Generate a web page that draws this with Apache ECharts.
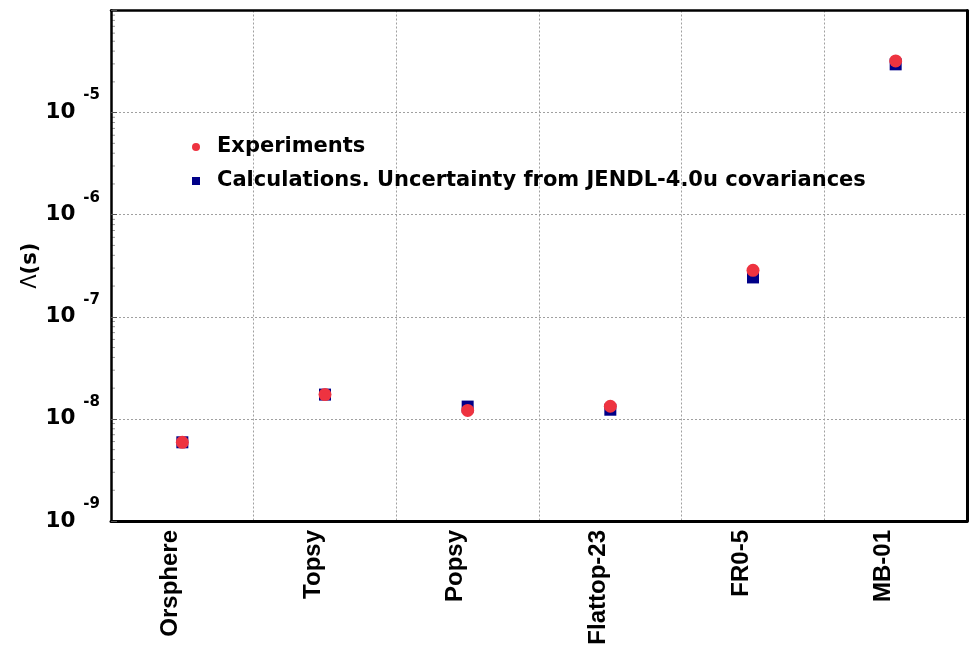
<!DOCTYPE html>
<html>
<head>
<meta charset="utf-8">
<script src="https://cdn.jsdelivr.net/npm/echarts@6/dist/echarts.min.js"></script>
<style>
  html, body { margin: 0; padding: 0; background: #fff; }
  #chart { width: 970px; height: 648px; }
</style>
</head>
<body>
<div id="chart"></div>
<script>
// Benchmark names along the x axis
const categories = ['Orsphere', 'Topsy', 'Popsy', 'Flattop-23', 'FR0-5', 'MB-01'];
// Measured Lambda values (s)
const experiments = [5.9e-9, 1.73e-8, 1.21e-8, 1.33e-8, 2.85e-7, 3.21e-5];
// Calculated Lambda values (s)
const calculations = [5.9e-9, 1.73e-8, 1.32e-8, 1.23e-8, 2.43e-7, 2.97e-5];
// Decade exponents that carry a label on the y axis
const labelledExponents = [-9, -8, -7, -6, -5];
// Mantissas of the minor log ticks inside each decade
const minorMantissas = [2, 3, 4, 5, 6, 7, 8, 9];

const FONT = 'DejaVu Sans';
const LABEL_FONT = 'Liberation Sans';
const expName = 'Experiments';
const calcName = 'Calculations. Uncertainty from JENDL-4.0u covariances';

const minorTicks = [];
labelledExponents.forEach(function (e) {
  minorMantissas.forEach(function (m) {
    minorTicks.push([0, m * Math.pow(10, e)]);
  });
});

const gridLine = { color: '#a0a0a0', width: 1, type: [2, 2] };

const chart = echarts.init(document.getElementById('chart'), null, { renderer: 'canvas' });

chart.setOption({
  animation: false,
  backgroundColor: '#ffffff',
  grid: {
    left: 111, right: 3, top: 10.5, bottom: 127,
    show: false,
    containLabel: false,
    outerBoundsMode: 'none'
  },
  legend: {
    orient: 'vertical',
    left: 187, top: 128.5,
    itemWidth: 8, itemHeight: 8, itemGap: 7,
    data: [
      { name: expName, icon: 'circle' },
      { name: calcName, icon: 'rect' }
    ],
    textStyle: {
      fontFamily: FONT, fontWeight: 'bold', fontSize: 21, color: '#000',
      lineHeight: 24, padding: [3, 0, 0, 12]
    }
  },
  xAxis: [
    {
      type: 'category',
      data: categories,
      boundaryGap: true,
      position: 'bottom',
      axisLine: { show: true, lineStyle: { color: '#000', width: 3 } },
      axisTick: { show: false },
      splitLine: { show: true, lineStyle: gridLine },
      axisLabel: {
        rotate: 90,
        margin: 9,
        verticalAlign: 'bottom',
        interval: 0,
        fontFamily: LABEL_FONT, fontWeight: 'bold', fontSize: 24, color: '#000'
      },
      z: 3
    },
    {
      // top edge of the frame
      type: 'category',
      data: categories,
      position: 'top',
      axisLine: { show: true, lineStyle: { color: '#000', width: 2.5 } },
      axisTick: { show: false },
      axisLabel: { show: false },
      splitLine: { show: false },
      z: 3
    }
  ],
  yAxis: [
    {
      type: 'log',
      logBase: 10,
      min: 1e-9,
      max: 1e-4,
      position: 'left',
      name: '{l|Λ}{p|(s)}',
      nameLocation: 'middle',
      nameRotate: 90,
      nameGap: 70,
      nameMoveOverlap: false,
      nameTextStyle: {
        color: '#000',
        rich: {
          l: { fontFamily: FONT, fontWeight: 'normal', fontSize: 21, color: '#000' },
          p: { fontFamily: FONT, fontWeight: 'bold', fontSize: 21, color: '#000' }
        }
      },
      axisLine: { show: true, lineStyle: { color: '#000', width: 2.5 } },
      axisTick: { show: true, inside: true, length: 6, lineStyle: { color: '#555', width: 1 } },
      splitLine: { show: true, lineStyle: gridLine },
      axisLabel: {
        margin: 11,
        showMaxLabel: false,
        formatter: function (v) {
          const e = Math.round(Math.log10(v));
          if (labelledExponents.indexOf(e) < 0) return '';
          return '{b|10}{s|' + e + '}';
        },
        rich: {
          b: { fontFamily: FONT, fontWeight: 'bold', fontSize: 21.5, color: '#000' },
          s: { fontFamily: FONT, fontWeight: 'bold', fontSize: 15, color: '#000', padding: [0, 0, 34, 8] }
        }
      },
      z: 3
    },
    {
      // right edge of the frame
      type: 'log',
      logBase: 10,
      min: 1e-9,
      max: 1e-4,
      position: 'right',
      axisLine: { show: true, lineStyle: { color: '#000', width: 3 } },
      axisTick: { show: false },
      axisLabel: { show: false },
      splitLine: { show: false },
      z: 3
    }
  ],
  series: [
    {
      name: 'minor-ticks',
      type: 'custom',
      silent: true,
      z: 1,
      encode: { x: 0, y: 1 },
      data: minorTicks,
      renderItem: function (params, api) {
        const y = api.coord([0, api.value(1)])[1];
        const x0 = params.coordSys.x;
        return {
          type: 'line',
          shape: { x1: x0, y1: y, x2: x0 + 4, y2: y },
          style: { stroke: '#999', lineWidth: 1 }
        };
      }
    },
    {
      name: calcName,
      type: 'scatter',
      symbol: 'rect',
      symbolSize: 12,
      z: 4,
      itemStyle: { color: '#000088', opacity: 1 },
      data: calculations
    },
    {
      name: expName,
      type: 'scatter',
      symbol: 'circle',
      symbolSize: 13,
      z: 5,
      itemStyle: { color: '#ee3340', opacity: 1 },
      data: experiments
    }
  ]
});
</script>
</body>
</html>
